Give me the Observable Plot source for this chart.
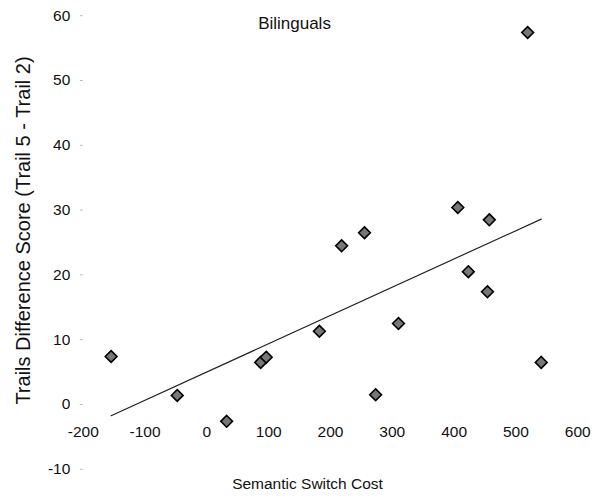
<!DOCTYPE html>
<html>
<head>
<meta charset="utf-8">
<script src="https://cdn.jsdelivr.net/npm/d3@7"></script>
<script src="https://cdn.jsdelivr.net/npm/@observablehq/plot@0.6"></script>
<style>
  html, body { margin: 0; padding: 0; background: #fff; }
</style>
</head>
<body>
<div id="chart"></div>
<script>
const switchCost = [-155, -48, 32, 87, 96, 182, 218, 255, 273, 310, 406, 423, 457, 454, 519, 541];
const trailsDiff = [7.4, 1.4, -2.6, 6.5, 7.3, 11.3, 24.5, 26.5, 1.5, 12.5, 30.4, 20.5, 28.5, 17.4, 57.4, 6.5];
const xTicks = [-200, -100, 0, 100, 200, 300, 400, 500, 600];
const xTickLabels = ["-200", "-100", "0", "100", "200", "300", "400", "500", "600"];
const yTicks = [-10, 0, 10, 20, 30, 40, 50, 60];
const title = "Bilinguals";
const xTitle = "Semantic Switch Cost";
const yTitle = "Trails Difference Score (Trail 5 - Trail 2)";

const points = switchCost.map((x, i) => ({x, y: trailsDiff[i]}));
const xTickData = xTicks.map((v, i) => ({v, label: xTickLabels[i]}));

const chart = Plot.plot({
  width: 596,
  height: 500,
  marginLeft: 82.8,
  marginRight: 18.8,
  marginTop: 15.2,
  marginBottom: 31.2,
  style: {fontFamily: "'Liberation Sans', Arial, sans-serif", fontSize: "15px", color: "#111", background: "#fff"},
  x: {domain: [-200, 600], axis: null},
  y: {domain: [-10, 60], axis: null},
  marks: [
    Plot.axisY(yTicks, {tickSize: 3, stroke: "#bbb", tickPadding: 10, tickFormat: d => String(d), label: null, fontSize: 15.5, color: "#111"}),
    Plot.text(xTickData, {x: "v", y: () => 0, text: "label", dy: 28, fontSize: 15.5, fill: "#111"}),
    Plot.linearRegressionY(points, {x: "x", y: "y", ci: 0, stroke: "#222", strokeWidth: 1.2}),
    Plot.dot(points, {x: "x", y: "y", symbol: "diamond2", r: 5.3, fill: "#777", stroke: "#000", strokeWidth: 1.6}),
    Plot.text([title], {frameAnchor: "top", dx: -36, dy: 8, lineAnchor: "middle", fontSize: 17, fill: "#111"}),
    Plot.text([xTitle], {frameAnchor: "bottom", dx: -23, dy: 15, lineAnchor: "middle", fontSize: 15.5, fill: "#111"}),
    Plot.text([yTitle], {frameAnchor: "left", rotate: -90, dx: -60, dy: -12, textAnchor: "middle", lineAnchor: "middle", fontSize: 20, fill: "#111"})
  ]
});
document.getElementById("chart").appendChild(chart);
</script>
</body>
</html>
